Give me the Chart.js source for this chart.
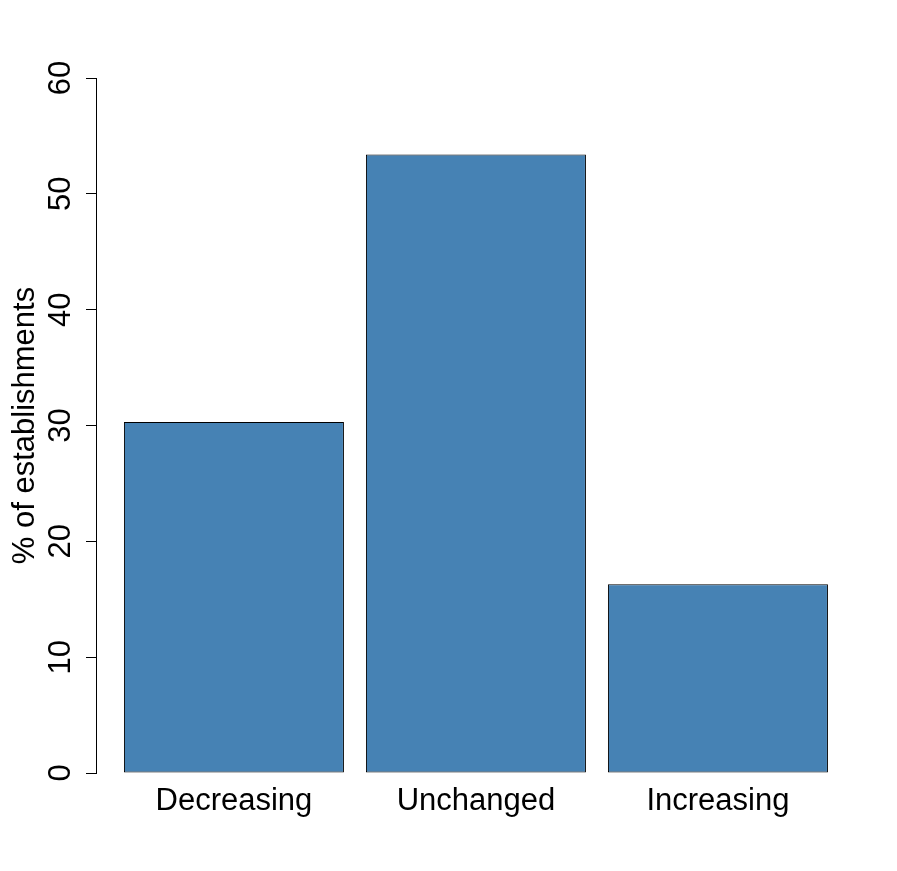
<!DOCTYPE html>
<html>
<head>
<meta charset="utf-8">
<script src="https://cdn.jsdelivr.net/npm/chart.js@4.4.0/dist/chart.umd.min.js"></script>
<style>
  html, body { margin: 0; padding: 0; background: #fff; }
  #wrap { width: 897px; height: 871px; }
</style>
</head>
<body>
<div id="wrap"><canvas id="chart" width="897" height="871"></canvas></div>
<script>
// data
const categories = ['Decreasing', 'Unchanged', 'Increasing'];
const shares = [30.3, 53.4, 16.3];
const barCentres = [0.6, 1.7, 2.8];   // R barplot positions, width 1, space 0.1
const yTicks = [0, 10, 20, 30, 40, 50, 60];

const font = 'Arial, "Liberation Sans", sans-serif';

const ctx = document.getElementById('chart');
new Chart(ctx, {
    type: 'bar',
    data: {
        datasets: [{
            data: barCentres.map((x, i) => ({ x: x, y: shares[i] })),
            backgroundColor: '#4682B4',
            borderColor: '#000000',
            borderWidth: 1,
            borderSkipped: false,
            barPercentage: 1,
            categoryPercentage: 1 / 1.1
        }]
    },
    options: {
        responsive: false,
        animation: false,
        events: [],
        layout: { padding: { left: 0, top: 78, right: 41, bottom: 0 } },
        plugins: { legend: { display: false }, tooltip: { enabled: false } },
        scales: {
            x: {
                type: 'linear',
                offset: false,
                min: -0.027,
                max: 3.4275,
                grid: { display: false },
                border: { display: false },
                afterBuildTicks: function(scale) {
                    scale.ticks = barCentres.map(v => ({ value: v }));
                },
                afterFit: function(scale) { scale.height = 98; },
                ticks: {
                    autoSkip: false,
                    maxRotation: 0,
                    padding: 2,
                    color: '#000',
                    font: { family: font, size: 31 },
                    callback: function(value, index) { return categories[index]; }
                }
            },
            y: {
                min: 0,
                max: 60,
                afterBuildTicks: function(scale) {
                    scale.ticks = yTicks.map(v => ({ value: v }));
                },
                afterFit: function(scale) { scale.width = 96; },
                border: { display: true, color: '#000', width: 1 },
                grid: {
                    drawOnChartArea: false,
                    drawTicks: true,
                    tickLength: 10,
                    color: '#000',
                    lineWidth: 1
                },
                ticks: {
                    minRotation: 90,
                    maxRotation: 90,
                    crossAlign: 'center',
                    padding: 7,
                    color: '#000',
                    font: { family: font, size: 31 }
                },
                title: {
                    display: true,
                    text: '% of establishments',
                    color: '#000',
                    font: { family: font, size: 31 },
                    padding: { top: 7, bottom: 0 }
                }
            }
        }
    }
});
</script>
</body>
</html>
